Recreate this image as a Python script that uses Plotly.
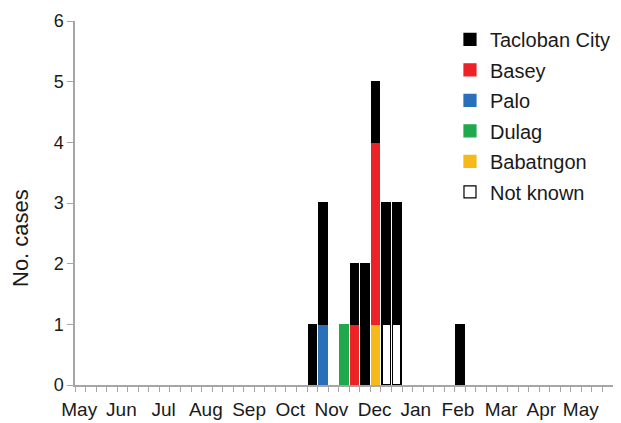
import plotly.graph_objects as go

# Data: week index (0 = first week of May) and case counts per location
tacloban_weeks = [22, 23, 26, 27, 28, 29, 30, 36]
tacloban_cases = [1, 2, 1, 2, 1, 2, 2, 1]
basey_weeks = [26, 28]
basey_cases = [1, 3]
palo_weeks = [23]
palo_cases = [1]
dulag_weeks = [25]
dulag_cases = [1]
babatngon_weeks = [28]
babatngon_cases = [1]
notknown_weeks = [29, 30]
notknown_cases = [1, 1]

n_weeks = 51
month_labels = ["May", "Jun", "Jul", "Aug", "Sep", "Oct", "Nov", "Dec",
                "Jan", "Feb", "Mar", "Apr", "May "]
month_pos = [-0.1, 3.9, 7.9, 11.9, 16.0, 19.9, 23.8, 27.9, 31.8, 35.8, 39.9, 43.7, 47.7]

FONT = "Liberation Sans, Arial, sans-serif"
# page has an 8px body margin, so the figure is sized to fit the 621x423 window
W, H = 613, 415
ML, MR, MT, MB = 67, 8, 13, 38

fig = go.Figure()

# (name, weeks, cases, fill, outline, legend rank) - added bottom-to-top for stacking
series = [
    ("Not known", notknown_weeks, notknown_cases, "#ffffff", "#000000", 6),
    ("Babatngon", babatngon_weeks, babatngon_cases, "#f6b91a", "#f6b91a", 5),
    ("Dulag", dulag_weeks, dulag_cases, "#20a94c", "#20a94c", 4),
    ("Palo", palo_weeks, palo_cases, "#2a6fba", "#2a6fba", 3),
    ("Basey", basey_weeks, basey_cases, "#ec2227", "#ec2227", 2),
    ("Tacloban City", tacloban_weeks, tacloban_cases, "#000000", "#000000", 1),
]

for name, wk, cs, col, lcol, rank in series:
    fig.add_trace(go.Bar(
        x=wk, y=cs, name=name, legendgroup=name, legendrank=rank,
        marker=dict(color=col, line=dict(color=lcol, width=1.2)),
    ))

fig.update_layout(
    width=W, height=H,
    barmode="stack", bargap=0.2,
    plot_bgcolor="white", paper_bgcolor="white",
    margin=dict(l=ML, r=MR, t=MT, b=MB, autoexpand=False),
    font=dict(family=FONT, size=18, color="#1a1a1a"),
    showlegend=True,
    legend=dict(
        traceorder="grouped", tracegroupgap=1.5,
        x=0.697, y=1.003, xanchor="left", yanchor="top",
        font=dict(family=FONT, size=20, color="#1a1a1a"),
        bgcolor="rgba(0,0,0,0)", itemwidth=30,
    ),
    xaxis=dict(
        range=[-0.5, n_weeks - 0.5], automargin=False,
        tickmode="array", tickvals=month_pos, ticktext=month_labels,
        tickangle=0,
        ticks="outside", ticklen=6, tickcolor="rgba(0,0,0,0)",
        ticklabeloverflow="allow",
        showline=True, linecolor="#a6a6a6", linewidth=1.5,
        showgrid=False, zeroline=False,
        tickfont=dict(family=FONT, size=19, color="#1a1a1a"),
        minor=dict(tickmode="linear", tick0=-0.5, dtick=1, ticks="outside",
                   ticklen=5, tickcolor="#a6a6a6", tickwidth=1.2, showgrid=False),
    ),
    yaxis=dict(
        range=[0, 6], tickmode="linear", tick0=0, dtick=1, automargin=False,
        ticks="outside", ticklen=6, tickcolor="#a6a6a6", tickwidth=1.2,
        showline=True, linecolor="#a6a6a6", linewidth=1.5,
        showgrid=False, zeroline=False,
        tickfont=dict(family=FONT, size=18, color="#1a1a1a"),
    ),
    annotations=[dict(
        text="No. cases", xref="paper", yref="paper",
        x=(12 - ML) / (W - ML - MR), y=(H - MB - 230) / (H - MT - MB),
        xanchor="center", yanchor="middle", textangle=-90, showarrow=False,
        font=dict(family=FONT, size=22, color="#1a1a1a"),
    )],
)

fig.write_html("out.html")
